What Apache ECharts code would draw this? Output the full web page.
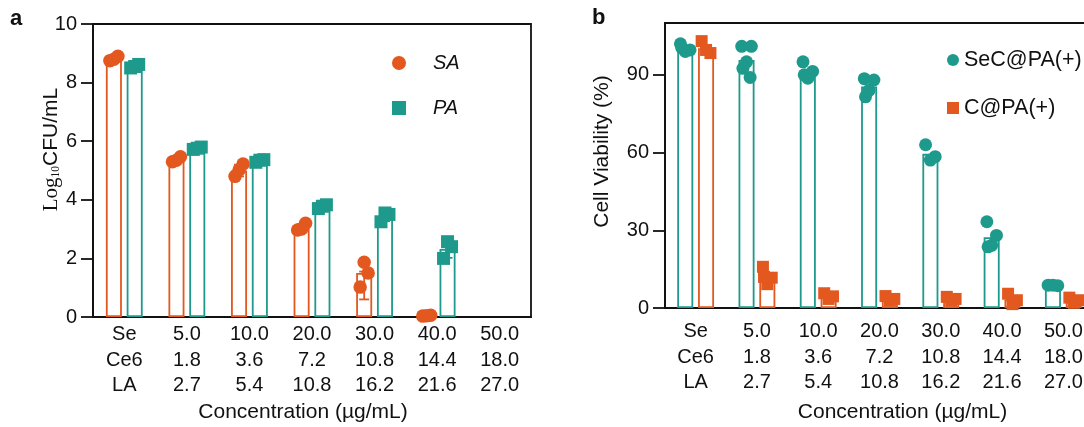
<!DOCTYPE html>
<html><head><meta charset="utf-8">
<script src="https://cdn.jsdelivr.net/npm/echarts@6/dist/echarts.min.js"></script>
<style>html,body{margin:0;padding:0;background:#fff}#c{width:1084px;height:427px}</style>
</head><body><div id="c"></div>
<script>
// ---------- shared category labels ----------
const seRow  = ['Se', '5.0', '10.0', '20.0', '30.0', '40.0', '50.0'];
const ce6Row = ['Ce6', '1.8', '3.6', '7.2', '10.8', '14.4', '18.0'];
const laRow  = ['LA', '2.7', '5.4', '10.8', '16.2', '21.6', '27.0'];

// ---------- panel a : Log10 CFU/mL ----------
const saMean = [8.8, 5.4, 5.0, 3.05, 1.5, 0.05, null];
const paMean = [8.55, 5.76, 5.33, 3.77, 3.43, 2.32, null];
const saPoints = [[8.75, 8.9, 8.8], [5.3, 5.47, 5.35], [4.8, 5.22, 5.02], [2.97, 3.2, 3.0], [1.02, 1.5, 1.87], [0.03, 0.06, 0.04], []];
const paPoints = [[8.5, 8.62, 8.55], [5.72, 5.8, 5.76], [5.28, 5.37, 5.35], [3.7, 3.83, 3.78], [3.25, 3.5, 3.55], [2.0, 2.4, 2.57], []];
const saErrLow  = [8.74, 5.31, 4.8, 2.95, 0.6, 0.03, null];
const saErrHigh = [8.88, 5.47, 5.2, 3.17, 1.55, 0.06, null];
const paErrLow  = [8.5, 5.72, 5.28, 3.7, 3.27, 2.02, null];
const paErrHigh = [8.62, 5.8, 5.38, 3.84, 3.56, 2.58, null];
const yTicksA = [0, 2, 4, 6, 8, 10];

// ---------- panel b : Cell viability (%) ----------
const secMean = [100.3, 95.7, 91.2, 85.5, 59.5, 27.3, 8.7];
const cMean   = [100.3, 12.2, 4.6, 3.6, 3.5, 3.3, 3.0];
const secPoints = [[102, 99.6, 99, 100.5], [101, 101, 95, 92.5, 89], [95, 91.3, 88.7, 90], [88.5, 88, 84, 81.5], [63, 58.4, 57.1], [33.3, 28, 24.2, 23.6], [8.8, 8.6, 8.8]];
const cPoints   = [[103, 98.4, 99.6], [15.9, 11.7, 9.2, 12], [5.7, 4.5, 3.5], [4.6, 3.5, 2.8], [4.3, 3.5, 2.8], [5.5, 3.0, 1.5], [4.0, 3.0, 2.0]];
const yTicksB = [0, 30, 60, 90];

// ---------- styling ----------
const ORANGE = '#E2581F';
const TEAL = '#1E9A8C';
const INK = '#111111';
const FONT = "'Liberation Sans', Arial, sans-serif";
const LW = 1.8;
const categories = seRow.map((s, i) => s + '\n' + ce6Row[i] + '\n' + laRow[i]);
const jitter = [-4, 4, 0, -3, 3];

function barSeries(name, data, color, gi) {
  return {
    type: 'bar', name: name, xAxisIndex: gi, yAxisIndex: gi, data: data,
    barWidth: 16, barGap: '30%', z: 2, silent: true,
    itemStyle: { color: '#ffffff', borderColor: color, borderWidth: LW }
  };
}
function pointSeries(name, pts, color, shape, size, dx, spread, gi) {
  const data = [];
  pts.forEach((arr, ci) => arr.forEach((v, k) => data.push([ci, v, k])));
  return {
    type: 'custom', name: name, xAxisIndex: gi, yAxisIndex: gi, z: 6, silent: true,
    itemStyle: { color: color }, data: data, encode: { x: 0, y: 1 },
    renderItem: function (params, api) {
      const p = api.coord([api.value(0), api.value(1)]);
      const x = p[0] + dx + jitter[api.value(2) % jitter.length] * spread;
      if (shape === 'circle') {
        return { type: 'circle', shape: { cx: x, cy: p[1], r: size / 2 }, style: { fill: color } };
      }
      return { type: 'rect', shape: { x: x - size / 2, y: p[1] - size / 2, width: size, height: size }, style: { fill: color } };
    }
  };
}
function errSeries(lo, hi, color, dx, gi) {
  const data = [];
  lo.forEach((l, i) => { if (l != null) data.push([i, l, hi[i]]); });
  return {
    type: 'custom', xAxisIndex: gi, yAxisIndex: gi, z: 4, silent: true,
    data: data, encode: { x: 0, y: [1, 2] },
    renderItem: function (params, api) {
      const a = api.coord([api.value(0), api.value(1)]);
      const b = api.coord([api.value(0), api.value(2)]);
      const x = a[0] + dx;
      const st = { stroke: color, lineWidth: LW };
      return { type: 'group', children: [
        { type: 'line', shape: { x1: x, y1: a[1], x2: x, y2: b[1] }, style: st },
        { type: 'line', shape: { x1: x - 5, y1: a[1], x2: x + 5, y2: a[1] }, style: st },
        { type: 'line', shape: { x1: x - 5, y1: b[1], x2: x + 5, y2: b[1] }, style: st }
      ] };
    }
  };
}
function xAxis(gi, labelMargin, nameGap, namePad) {
  return {
    type: 'category', gridIndex: gi, data: categories,
    axisLine: { lineStyle: { color: INK, width: LW } },
    axisTick: { alignWithLabel: true, length: 6, lineStyle: { color: INK, width: LW } },
    axisLabel: { interval: 0, fontSize: 20, lineHeight: 25.5, color: INK, margin: labelMargin, fontFamily: FONT },
    name: 'Concentration (µg/mL)', nameLocation: 'middle', nameGap: nameGap, nameMoveOverlap: false,
    nameTextStyle: { fontSize: 21, color: INK, fontFamily: FONT, padding: namePad }
  };
}
function yAxis(gi, min, max, ticks, name, nameGap, namePad, rich) {
  const ax = {
    type: 'value', gridIndex: gi, min: min, max: max,
    axisLine: { show: true, lineStyle: { color: INK, width: LW } },
    axisTick: { show: true, length: 12, lineStyle: { color: INK, width: LW }, customValues: ticks },
    axisLabel: { fontSize: 20, color: INK, margin: 16, fontFamily: FONT, customValues: ticks },
    splitLine: { show: false },
    name: name, nameLocation: 'middle', nameGap: nameGap, nameMoveOverlap: false,
    nameTextStyle: { fontSize: 21, color: INK, fontFamily: FONT, padding: namePad }
  };
  if (rich) ax.nameTextStyle.rich = rich;
  return ax;
}

const OFF = 10.4; // half of (bar width + bar gap)

const option = {
  animation: false,
  backgroundColor: '#ffffff',
  textStyle: { fontFamily: FONT },
  title: [
    { text: 'a', left: 10, top: 8, padding: 0, textStyle: { fontSize: 22, fontWeight: 'bold', color: INK, fontFamily: FONT } },
    { text: 'b', left: 592, top: 7, padding: 0, textStyle: { fontSize: 22, fontWeight: 'bold', color: INK, fontFamily: FONT } }
  ],
  legend: [
    { left: 392, top: 53, padding: 0, orient: 'vertical', itemWidth: 14, itemHeight: 14, itemGap: 25, selectedMode: false,
      data: [{ name: 'SA', icon: 'circle' }, { name: 'PA', icon: 'rect' }],
      textStyle: { fontSize: 20, fontStyle: 'italic', color: INK, fontFamily: FONT, padding: [0, 0, 0, 22] } },
    { left: 947, top: 49, padding: 0, orient: 'vertical', itemWidth: 12, itemHeight: 12, itemGap: 26, selectedMode: false,
      data: [{ name: 'SeC@PA(+)', icon: 'circle' }, { name: 'C@PA(+)', icon: 'rect' }],
      textStyle: { fontSize: 21.5, color: INK, fontFamily: FONT } }
  ],
  grid: [
    { left: 93, top: 24, right: 553, bottom: 110, outerBoundsMode: 'none', containLabel: false, show: true, borderColor: INK, borderWidth: LW, backgroundColor: 'transparent' },
    { left: 665, top: 23, right: -10, bottom: 119, outerBoundsMode: 'none', containLabel: false, show: true, borderColor: INK, borderWidth: LW, backgroundColor: 'transparent' }
  ],
  xAxis: [
    xAxis(0, 5, 85, [0, 18, 0, 0]),
    xAxis(1, 11, 94, [0, 0, 0, 46])
  ],
  yAxis: [
    yAxis(0, 0, 10, yTicksA, '{s|Log}{sub|10}{t|CFU/mL}', 31, [0, 0, 0, 42], {
      s: { fontFamily: "'Liberation Serif', serif", fontSize: 21, color: INK },
      sub: { fontFamily: "'Liberation Serif', serif", fontSize: 11.5, color: INK, verticalAlign: 'bottom' },
      t: { fontFamily: FONT, fontSize: 21, color: INK }
    }),
    yAxis(1, 0, 110, yTicksB, 'Cell Viability (%)', 52, [0, 0, 0, 28])
  ],
  series: [
    barSeries('SA bar', saMean, ORANGE, 0),
    barSeries('PA bar', paMean, TEAL, 0),
    errSeries(saErrLow, saErrHigh, ORANGE, -OFF, 0),
    errSeries(paErrLow, paErrHigh, TEAL, OFF, 0),
    pointSeries('SA', saPoints, ORANGE, 'circle', 13.5, -OFF, 1, 0),
    pointSeries('PA', paPoints, TEAL, 'rect', 13, OFF, 1, 0),

    barSeries('SeC bar', secMean, TEAL, 1),
    barSeries('C bar', cMean, ORANGE, 1),
    pointSeries('SeC@PA(+)', secPoints, TEAL, 'circle', 13, -OFF, 1.2, 1),
    pointSeries('C@PA(+)', cPoints, ORANGE, 'rect', 12, OFF, 1.1, 1)
  ]
};

const chart = echarts.init(document.getElementById('c'), null, { renderer: 'canvas' });
chart.setOption(option);
</script>
</body></html>
